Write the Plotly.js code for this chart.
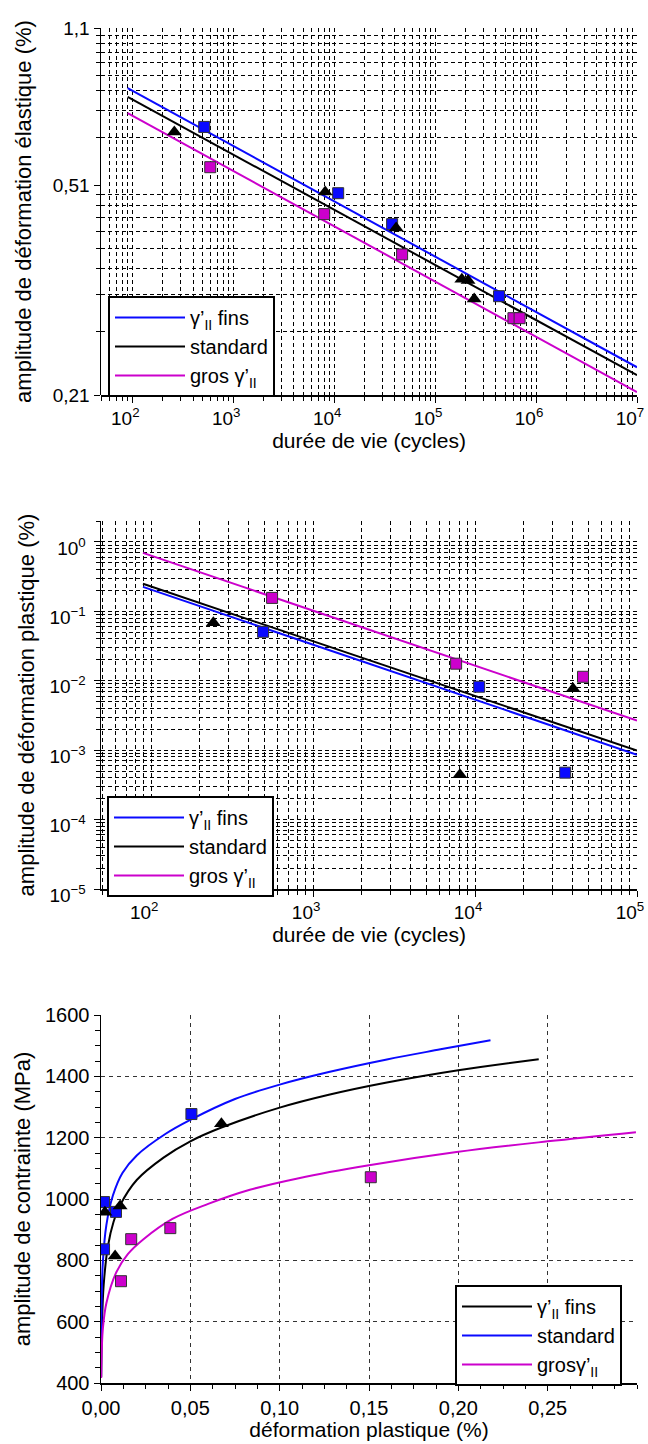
<!DOCTYPE html>
<html><head><meta charset="utf-8">
<script src="https://cdn.plot.ly/plotly-3.0.1.min.js"></script>
<style>html,body{margin:0;padding:0;background:#fff}#chart{width:648px;height:1444px}</style>
</head><body><div id="chart"></div>
<script>
// ---------- Chart 1 : amplitude de déformation élastique ----------
const elFitN = [90, 1e7];
const elFitFins = [0.839, 0.238];
const elFitStd = [0.806, 0.2296];
const elFitGros = [0.749, 0.2128];
const elFinsN = [516, 10960, 37500, 430000];
const elFinsV = [0.704, 0.522, 0.454, 0.328];
const elStdN = [261, 8150, 41100, 184000, 212000, 244000];
const elStdV = [0.688, 0.525, 0.446, 0.354, 0.352, 0.324];
const elGrosN = [592, 7960, 47100, 597000, 687000];
const elGrosV = [0.587, 0.475, 0.396, 0.297, 0.297];
const elYTickTop = ['1,1'];
const elYTickBottom = ['0,21', '0,51'];
const elXTickVals = [1e2, 1e3, 1e4, 1e5, 1e6, 1e7];
const elXTickText = ['10<sup>2</sup>', '10<sup>3</sup>', '10<sup>4</sup>', '10<sup>5</sup>', '10<sup>6</sup>', '10<sup>7</sup>'];

// ---------- Chart 2 : amplitude de déformation plastique ----------
const plFitN = [89, 1e5];
const plFitFins = [0.225, 0.00086];
const plFitStd = [0.249, 0.000984];
const plFitGros = [0.695, 0.00266];
const plFinsN = [491, 10600, 36000];
const plFinsV = [0.0507, 0.0082, 0.000474];
const plStdN = [242, 8060, 40300];
const plStdV = [0.0684, 0.000444, 0.00767];
const plGrosN = [558, 7640, 46400];
const plGrosV = [0.156, 0.0176, 0.0114];
const plYTickVals = [1e-5, 1e-4, 1e-3, 1e-2, 1e-1, 1];
const plYTickText = ['10<sup>−5</sup>', '10<sup>−4</sup>', '10<sup>−3</sup>', '10<sup>−2</sup>', '10<sup>−1</sup>', '10<sup>0</sup>'];
const plXTickVals = [1e2, 1e3, 1e4, 1e5];
const plXTickText = ['10<sup>2</sup>', '10<sup>3</sup>', '10<sup>4</sup>', '10<sup>5</sup>'];

// ---------- Chart 3 : amplitude de contrainte ----------
const csBlackE = [0.0001, 0.0005, 0.0015, 0.004, 0.007, 0.0107, 0.02, 0.035, 0.05, 0.0674, 0.1, 0.1275, 0.16, 0.2, 0.245];
const csBlackS = [420, 580, 720, 850, 925, 980, 1062, 1135, 1188, 1233, 1298, 1340, 1380, 1420, 1456];
const csBlueE = [0.00005, 0.0003, 0.001, 0.003, 0.0067, 0.012, 0.02, 0.036, 0.05, 0.075, 0.1, 0.1275, 0.16, 0.19, 0.218];
const csBlueS = [420, 640, 790, 915, 1012, 1085, 1142, 1212, 1258, 1326, 1373, 1414, 1455, 1488, 1518];
const csGrosE = [0.0001, 0.0005, 0.0011, 0.003, 0.0084, 0.015, 0.0236, 0.04, 0.06, 0.0833, 0.1107, 0.15, 0.199, 0.25, 0.2994];
const csGrosS = [416, 520, 581, 660, 759, 820, 868, 935, 984, 1030, 1068, 1110, 1153, 1188, 1218];
const csTriE = [0.0022, 0.0079, 0.0107, 0.0674];
const csTriS = [957, 814, 977, 1245];
const csSqE = [0.0017, 0.0084, 0.0017, 0.0506];
const csSqS = [990, 958, 836, 1277];
const csGrosPtE = [0.0169, 0.0388, 0.0112, 0.151];
const csGrosPtS = [869, 905, 732, 1071];
const csXTickVals = [0, 0.05, 0.10, 0.15, 0.20, 0.25];
const csXTickText = ['0,00', '0,05', '0,10', '0,15', '0,20', '0,25'];
const csYTickVals = [400, 600, 800, 1000, 1200, 1400, 1600];

const BLUE = '#0a0aff', BLACK = '#000000', MAG = '#cc00cc';
const FONT = 'Arial, "Liberation Sans", sans-serif';
const GRID = {showgrid: true, gridcolor: '#000', gridwidth: 1, griddash: '4px,3px'};
const LW = 2;

function lineTr(x, y, color, name, xa, ya, leg) {
  return {x, y, mode: 'lines', line: {color, width: LW, shape: 'spline', smoothing: 1}, name, xaxis: xa, yaxis: ya, legend: leg, hoverinfo: 'skip'};
}
function sqTr(x, y, color, xa, ya) {
  return {x, y, mode: 'markers', marker: {symbol: 'square', size: 11, color, line: {color: '#333', width: 1}}, showlegend: false, xaxis: xa, yaxis: ya, hoverinfo: 'skip'};
}
function triTr(x, y, xa, ya) {
  return {x, y, mode: 'markers', marker: {symbol: 'triangle-up', size: 13, color: '#000'}, showlegend: false, xaxis: xa, yaxis: ya, hoverinfo: 'skip'};
}
// empty carriers so that the two grid sections of chart 1 get their own subplots
function gridCarrier(ya) {
  return {x: [null], y: [null], mode: 'markers', showlegend: false, xaxis: 'x', yaxis: ya, hoverinfo: 'skip'};
}

const data = [
  gridCarrier('y'), gridCarrier('y2'),
  lineTr(elFitN, elFitFins, BLUE, 'γ’<sub>II</sub> fins', 'x2', 'y3', 'legend'),
  lineTr(elFitN, elFitStd, BLACK, 'standard', 'x2', 'y3', 'legend'),
  lineTr(elFitN, elFitGros, MAG, 'gros γ’<sub>II</sub>', 'x2', 'y3', 'legend'),
  sqTr(elFinsN, elFinsV, BLUE, 'x2', 'y3'),
  triTr(elStdN, elStdV, 'x2', 'y3'),
  sqTr(elGrosN, elGrosV, MAG, 'x2', 'y3'),

  lineTr(plFitN, plFitFins, BLUE, 'γ’<sub>II</sub> fins', 'x3', 'y4', 'legend2'),
  lineTr(plFitN, plFitStd, BLACK, 'standard', 'x3', 'y4', 'legend2'),
  lineTr(plFitN, plFitGros, MAG, 'gros γ’<sub>II</sub>', 'x3', 'y4', 'legend2'),
  sqTr(plFinsN, plFinsV, BLUE, 'x3', 'y4'),
  triTr(plStdN, plStdV, 'x3', 'y4'),
  sqTr(plGrosN, plGrosV, MAG, 'x3', 'y4'),

  lineTr(csBlackE, csBlackS, BLACK, 'γ’<sub>II</sub> fins', 'x4', 'y5', 'legend3'),
  lineTr(csBlueE, csBlueS, BLUE, 'standard', 'x4', 'y5', 'legend3'),
  lineTr(csGrosE, csGrosS, MAG, 'grosγ’<sub>II</sub>', 'x4', 'y5', 'legend3'),
  sqTr(csSqE, csSqS, BLUE, 'x4', 'y5'),
  triTr(csTriE, csTriS, 'x4', 'y5'),
  sqTr(csGrosPtE, csGrosPtS, MAG, 'x4', 'y5')
];

const H = 1444;
const dom = (top, bot) => [1 - bot / H, 1 - top / H];
const tickF = {family: FONT, size: 19, color: '#000'};
const tickF3 = {family: FONT, size: 20, color: '#000'};
const titleF = {family: FONT, size: 21, color: '#000'};
const titleFY = {family: FONT, size: 22, color: '#000'};
const minorLog = Object.assign({dtick: 'D1', ticks: 'outside', ticklen: 4, tickcolor: '#000'}, GRID);
const axLine = {showline: true, linecolor: '#000', linewidth: 1.5, ticks: 'outside', ticklen: 6, tickcolor: '#000',
  tickfont: tickF, zeroline: false, ticklabeloverflow: 'allow'};
const legendBase = {bgcolor: '#fff', bordercolor: '#000', borderwidth: 2, font: {family: FONT, size: 20, color: '#000'},
  xanchor: 'left', yanchor: 'top', tracegroupgap: 0, itemwidth: 70};

const layout = {
  width: 648, height: 1444,
  margin: {l: 101, r: 11, t: 0, b: 0},
  paper_bgcolor: '#fff', plot_bgcolor: 'rgba(0,0,0,0)',
  font: {family: FONT, color: '#000'},
  showlegend: true,
  // helper grid axes for chart 1 (two grid sections)
  xaxis: {domain: [0, 1], range: [0, 1], anchor: 'y', showline: false, showgrid: false, zeroline: false,
    showticklabels: false, ticks: ''},
  yaxis: Object.assign({}, axLine, GRID, {domain: dom(28, 185), type: 'log', range: [0, 1], anchor: 'x',
    tickmode: 'array', tickvals: [10], ticktext: elYTickTop, minor: minorLog}),
  yaxis2: Object.assign({}, axLine, GRID, {domain: dom(185, 395), type: 'log', range: [0, 1], anchor: 'x',
    tickmode: 'array', tickvals: [1, 10], ticktext: elYTickBottom, minor: minorLog}),
  // chart 1 data axes
  xaxis2: Object.assign({}, axLine, GRID, {domain: [0, 1], type: 'log', range: [Math.log10(49), 7], anchor: 'y3',
    tickmode: 'array', tickvals: elXTickVals, ticktext: elXTickText, minor: minorLog, ticklabelshift: -7,
    title: {text: 'durée de vie (cycles)', font: titleF, standoff: 4}}),
  yaxis3: {domain: dom(28, 395), type: 'log', range: [Math.log10(0.21), Math.log10(1.1)], anchor: 'x2',
    showticklabels: false, ticks: '', showgrid: false, showline: false, zeroline: false,
    title: {text: 'amplitude de déformation élastique (%)', font: titleFY, standoff: 62}},
  // chart 2
  xaxis3: Object.assign({}, axLine, GRID, {domain: [0, 1], type: 'log', range: [Math.log10(49), 5], anchor: 'y4',
    tickmode: 'array', tickvals: plXTickVals, ticktext: plXTickText, minor: minorLog, ticklabelshift: -7,
    title: {text: 'durée de vie (cycles)', font: titleF, standoff: 4}}),
  yaxis4: Object.assign({}, axLine, GRID, {domain: dom(521, 889), type: 'log', range: [-5, Math.log10(2)], anchor: 'x3',
    tickmode: 'array', tickvals: plYTickVals, ticktext: plYTickText, minor: minorLog, ticklabelshift: 6,
    ticklabelstandoff: 4,
    title: {text: 'amplitude de déformation plastique (%)', font: titleFY, standoff: 8}}),
  // chart 3
  xaxis4: Object.assign({}, axLine, {domain: [0, 1], range: [0, 0.3], anchor: 'y5', tickfont: tickF3,
    tickmode: 'array', tickvals: csXTickVals, ticktext: csXTickText,
    showgrid: true, gridcolor: '#333', gridwidth: 1, griddash: '4px,4px',
    minor: {dtick: 0.0125, ticks: 'outside', ticklen: 4, tickcolor: '#000', showgrid: false},
    title: {text: 'déformation plastique (%)', font: titleF, standoff: 4}}),
  yaxis5: Object.assign({}, axLine, {domain: dom(1015, 1383), range: [400, 1600], anchor: 'x4', tickfont: tickF3,
    tickmode: 'array', tickvals: csYTickVals,
    showgrid: true, gridcolor: '#333', gridwidth: 1, griddash: '4px,4px',
    minor: {dtick: 50, ticks: 'outside', ticklen: 5, tickcolor: '#000', showgrid: false},
    title: {text: 'amplitude de contrainte (MPa)', font: titleFY, standoff: 8}}),
  legend: Object.assign({}, legendBase, {x: (108 - 101) / 536, y: 1 - 296 / H}),
  legend2: Object.assign({}, legendBase, {x: (107 - 101) / 536, y: 1 - 796 / H}),
  legend3: Object.assign({}, legendBase, {x: (455 - 101) / 536, y: 1 - 1285 / H})
};

Plotly.newPlot('chart', data, layout, {staticPlot: true, displayModeBar: false});
</script>
</body></html>
